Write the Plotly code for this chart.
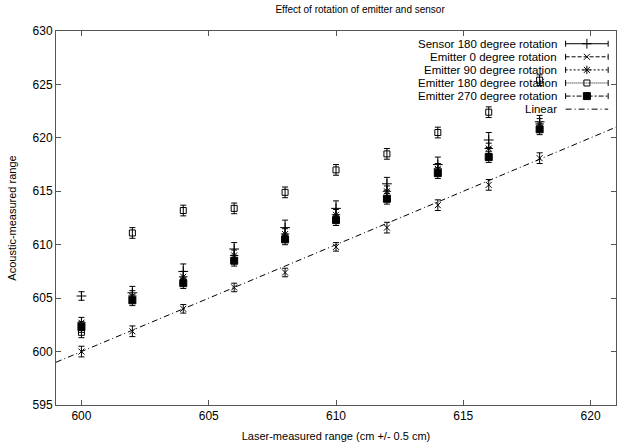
import plotly.graph_objects as go

# ---------------- data ----------------
laser_range = [600, 602, 604, 606, 608, 610, 612, 614, 616, 618]

sensor_180 = [605.2, 605.5, 607.5, 609.6, 611.6, 613.4, 615.7, 617.5, 619.8, 621.5]
sensor_180_err = [0.4, 0.6, 0.7, 0.6, 0.7, 0.7, 0.6, 0.7, 0.7, 0.6]

emitter_0 = [600.0, 601.9, 604.0, 606.0, 607.4, 609.8, 611.6, 613.7, 615.6, 618.1]
emitter_0_err = [0.5, 0.5, 0.4, 0.4, 0.4, 0.4, 0.5, 0.5, 0.5, 0.5]

emitter_90 = [602.7, 605.2, 607.0, 609.0, 611.0, 612.8, 615.0, 617.1, 619.0, 621.3]
emitter_90_err = [0.5, 0.5, 0.5, 0.5, 0.5, 0.5, 0.5, 0.5, 0.5, 0.5]

emitter_180 = [601.8, 611.1, 613.2, 613.4, 614.9, 617.0, 618.5, 620.5, 622.4, 625.4]
emitter_180_err = [0.5, 0.5, 0.5, 0.5, 0.5, 0.5, 0.5, 0.5, 0.5, 0.5]

emitter_270 = [602.3, 604.8, 606.4, 608.5, 610.5, 612.3, 614.3, 616.7, 618.2, 620.8]
emitter_270_err = [0.5, 0.5, 0.5, 0.5, 0.5, 0.5, 0.5, 0.5, 0.5, 0.5]

linear_x = [599, 621]
linear_y = [599, 621]

series_names = ["Sensor 180 degree rotation", "Emitter 0 degree rotation",
                "Emitter 90 degree rotation", "Emitter 180 degree rotation",
                "Emitter 270 degree rotation", "Linear"]

x_ticks = [600, 605, 610, 615, 620]
y_ticks = [595, 600, 605, 610, 615, 620, 625, 630]

# ---------------- style ----------------
FONT = "Liberation Sans, Arial, sans-serif"
INK = "#000000"
AXIS = "#555555"

styles = [
    dict(symbol="cross-thin", size=7, dash="solid"),
    dict(symbol="x-thin", size=6, dash="4px,2px"),
    dict(symbol="asterisk", size=7, dash="2px,2px"),
    dict(symbol="square-open", size=6, dash="1px,1px"),
    dict(symbol="square", size=7, dash="5px,2px,2px,2px"),
]

series = [
    (sensor_180, sensor_180_err),
    (emitter_0, emitter_0_err),
    (emitter_90, emitter_90_err),
    (emitter_180, emitter_180_err),
    (emitter_270, emitter_270_err),
]

fig = go.Figure()

# linear reference line
fig.add_trace(go.Scatter(
    x=linear_x, y=linear_y, mode="lines",
    line=dict(color=INK, width=1, dash="6px,3px,1px,3px"),
    showlegend=False, hoverinfo="skip"))

for (vals, errs), st, name in zip(series, styles, series_names):
    fig.add_trace(go.Scatter(
        x=laser_range, y=vals, mode="markers", name=name,
        marker=dict(symbol=st["symbol"], size=st["size"], color=INK,
                    line=dict(color=INK, width=1)),
        error_y=dict(type="data", array=errs, visible=True,
                     color=INK, thickness=1, width=3),
        showlegend=False))

# ---------------- custom gnuplot-like legend (overlay axes 0..1) ----------------
leg_x0, leg_x1, leg_xm, leg_text_x = 0.910, 0.986, 0.948, 0.897
leg_rows = [0.966, 0.931, 0.896, 0.861, 0.826, 0.791]
cap = 0.008

for i, name in enumerate(series_names):
    ry = leg_rows[i]
    if i < 5:
        st = styles[i]
        fig.add_trace(go.Scatter(
            x=[leg_x0, leg_x1], y=[ry, ry], xaxis="x2", yaxis="y2",
            mode="lines", line=dict(color=INK, width=1, dash=st["dash"]),
            error_y=dict(type="data", array=[cap, cap], visible=True,
                         color=INK, thickness=1, width=0),
            showlegend=False, hoverinfo="skip"))
        fig.add_trace(go.Scatter(
            x=[leg_xm], y=[ry], xaxis="x2", yaxis="y2", mode="markers",
            marker=dict(symbol=st["symbol"], size=st["size"], color=INK,
                        line=dict(color=INK, width=1)),
            showlegend=False, hoverinfo="skip"))
    else:
        fig.add_trace(go.Scatter(
            x=[leg_x0, leg_x1], y=[ry, ry], xaxis="x2", yaxis="y2",
            mode="lines", line=dict(color=INK, width=1, dash="6px,3px,1px,3px"),
            showlegend=False, hoverinfo="skip"))
    fig.add_annotation(x=leg_text_x, y=ry, xref="x2", yref="y2", text=name,
                       showarrow=False, xanchor="right", yanchor="middle",
                       borderpad=0, font=dict(family=FONT, size=11.5, color=INK))

axis_common = dict(
    showgrid=False, zeroline=False, showline=True, linecolor=AXIS, linewidth=1,
    mirror="ticks", ticks="inside", ticklen=5, tickcolor=AXIS, automargin=False,
    tickfont=dict(family=FONT, size=12, color=INK),
)

fig.update_layout(
    width=619, height=446, autosize=False,
    margin=dict(l=56, r=3, t=31, b=41, autoexpand=False),
    paper_bgcolor="white", plot_bgcolor="white",
    title=dict(text="Effect of rotation of emitter and sensor", x=0.543, xanchor="center",
               xref="paper", y=0.978, yref="container", yanchor="middle", automargin=False,
               font=dict(family=FONT, size=10, color=INK)),
    xaxis=dict(range=[599, 621], tickvals=x_ticks, ticktext=[str(v) for v in x_ticks],
               title=dict(text="Laser-measured range (cm +/- 0.5 cm)", standoff=9,
                          font=dict(family=FONT, size=11, color=INK)),
               **axis_common),
    yaxis=dict(range=[595, 630], tickvals=y_ticks, ticktext=[str(v) for v in y_ticks],
               title=dict(text="Acoustic-measured range", standoff=13,
                          font=dict(family=FONT, size=11, color=INK)),
               **axis_common),
    xaxis2=dict(overlaying="x", range=[0, 1], visible=False, fixedrange=True),
    yaxis2=dict(overlaying="y", range=[0, 1], visible=False, fixedrange=True),
)

fig.write_html("out.html", config={"displayModeBar": False},
               post_script="document.body.style.margin='0';document.body.style.overflow='hidden';")
